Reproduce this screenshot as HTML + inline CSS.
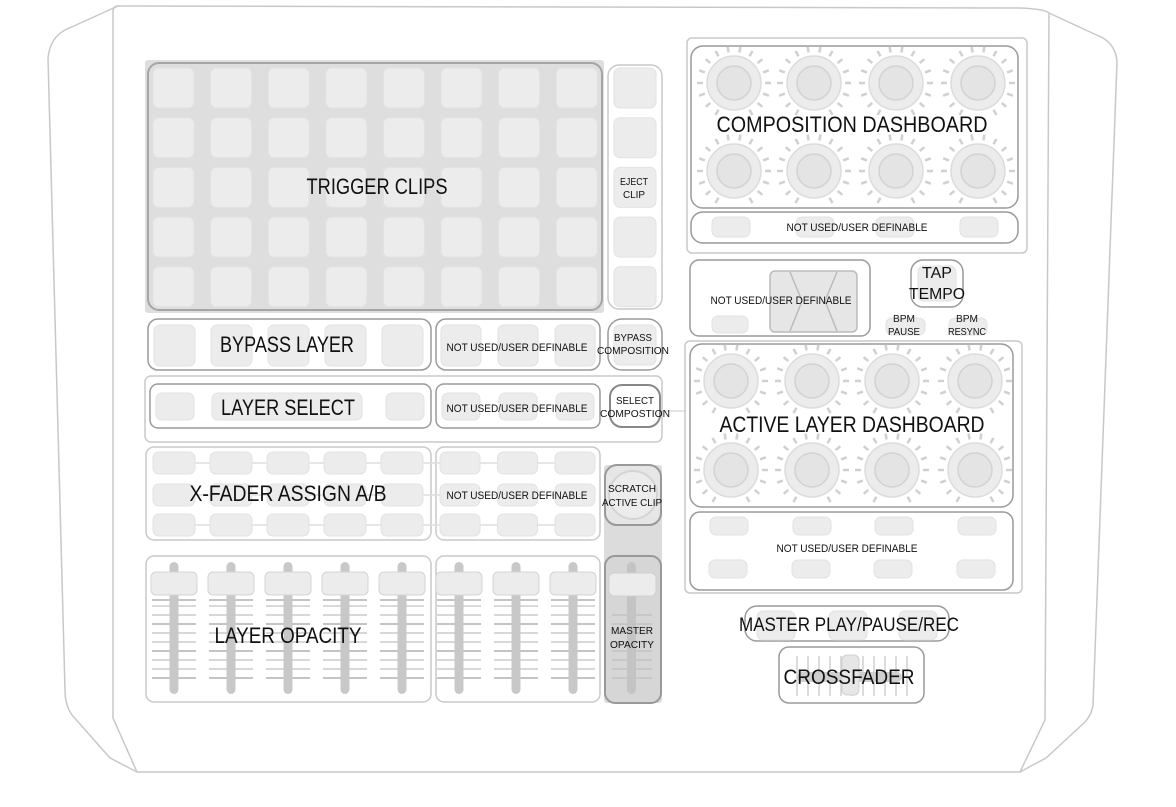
<!DOCTYPE html>
<html><head><meta charset="utf-8"><style>
html,body{margin:0;padding:0;background:#fff;}
svg{display:block;}
text{font-family:"Liberation Sans",sans-serif;fill:#111;}
</style></head><body>
<svg id="s" width="1176" height="807" viewBox="0 0 1176 807" xmlns="http://www.w3.org/2000/svg">
<g fill="none" stroke="#c8c8c8" stroke-width="1.5">
<path d="M118,6 L1020,8 Q1045,9 1049,13 L1045,720 L1020,772 L137,772 L113,718 L113,12 Q113,6 118,6 Z"/>
<path d="M118,6 L65,30 Q50,38 48,58 L65,690 Q65,705 72,715 L110,758 L137,772"/>
<path d="M1049,13 L1103,38 Q1116,46 1117,62 L1093,705 Q1092,714 1085,722 L1046,758 L1020,772"/>
</g>
<g id="g"></g>
<g font-size="22">
<text x="377" y="194" text-anchor="middle" textLength="141" lengthAdjust="spacingAndGlyphs">TRIGGER CLIPS</text>
<text x="287" y="352" text-anchor="middle" textLength="134" lengthAdjust="spacingAndGlyphs">BYPASS LAYER</text>
<text x="288" y="415" text-anchor="middle" textLength="134" lengthAdjust="spacingAndGlyphs">LAYER SELECT</text>
<text x="288" y="501" text-anchor="middle" textLength="197" lengthAdjust="spacingAndGlyphs">X-FADER ASSIGN A/B</text>
<text x="288" y="643" text-anchor="middle" textLength="147" lengthAdjust="spacingAndGlyphs">LAYER OPACITY</text>
<text x="852" y="132" text-anchor="middle" textLength="271" lengthAdjust="spacingAndGlyphs">COMPOSITION DASHBOARD</text>
<text x="852" y="432" text-anchor="middle" textLength="265" lengthAdjust="spacingAndGlyphs">ACTIVE LAYER DASHBOARD</text>
<text x="849" y="631" text-anchor="middle" font-size="19" textLength="220" lengthAdjust="spacingAndGlyphs">MASTER PLAY/PAUSE/REC</text>
<text x="849" y="684" text-anchor="middle" font-size="21" textLength="131" lengthAdjust="spacingAndGlyphs">CROSSFADER</text>
<text x="937" y="278" text-anchor="middle" font-size="16" textLength="30" lengthAdjust="spacingAndGlyphs">TAP</text>
<text x="937" y="299" text-anchor="middle" font-size="16" textLength="56" lengthAdjust="spacingAndGlyphs">TEMPO</text>
</g>
<g font-size="11" text-anchor="middle">
<text x="517" y="351" textLength="141" lengthAdjust="spacingAndGlyphs">NOT USED/USER DEFINABLE</text>
<text x="517" y="412" textLength="141" lengthAdjust="spacingAndGlyphs">NOT USED/USER DEFINABLE</text>
<text x="517" y="499" textLength="141" lengthAdjust="spacingAndGlyphs">NOT USED/USER DEFINABLE</text>
<text x="857" y="231" textLength="141" lengthAdjust="spacingAndGlyphs">NOT USED/USER DEFINABLE</text>
<text x="781" y="304" textLength="141" lengthAdjust="spacingAndGlyphs">NOT USED/USER DEFINABLE</text>
<text x="847" y="552" textLength="141" lengthAdjust="spacingAndGlyphs">NOT USED/USER DEFINABLE</text>
</g>
<g font-size="10" text-anchor="middle">
<text x="634" y="185" textLength="28" lengthAdjust="spacingAndGlyphs">EJECT</text>
<text x="634" y="198" textLength="22" lengthAdjust="spacingAndGlyphs">CLIP</text>
<text x="633" y="341" textLength="38" lengthAdjust="spacingAndGlyphs">BYPASS</text>
<text x="633" y="354" textLength="72" lengthAdjust="spacingAndGlyphs">COMPOSITION</text>
<text x="635" y="404" textLength="38" lengthAdjust="spacingAndGlyphs">SELECT</text>
<text x="635" y="417" textLength="70" lengthAdjust="spacingAndGlyphs">COMPOSTION</text>
<text x="632" y="492" textLength="48" lengthAdjust="spacingAndGlyphs">SCRATCH</text>
<text x="632" y="506" textLength="60" lengthAdjust="spacingAndGlyphs">ACTIVE CLIP</text>
<text x="632" y="634" textLength="42" lengthAdjust="spacingAndGlyphs">MASTER</text>
<text x="632" y="648" textLength="44" lengthAdjust="spacingAndGlyphs">OPACITY</text>
<text x="904" y="322" textLength="22" lengthAdjust="spacingAndGlyphs">BPM</text>
<text x="904" y="335" textLength="32" lengthAdjust="spacingAndGlyphs">PAUSE</text>
<text x="967" y="322" textLength="22" lengthAdjust="spacingAndGlyphs">BPM</text>
<text x="967" y="335" textLength="38" lengthAdjust="spacingAndGlyphs">RESYNC</text>
</g>
</svg>
<script>
var g=document.getElementById('g'),o='';
function R(x,y,w,h,r,f,s,sw){o+='<rect x="'+x+'" y="'+y+'" width="'+w+'" height="'+h+'" rx="'+r+'" fill="'+(f||'none')+'" stroke="'+(s||'none')+'" stroke-width="'+(sw||1.5)+'"/>';}
function L(a,b,c,d,s,w){o+='<line x1="'+a+'" y1="'+b+'" x2="'+c+'" y2="'+d+'" stroke="'+s+'" stroke-width="'+w+'"/>';}
var P='#ececec',PS='#e2e2e2',B='#c9c9c9',D='#9a9a9a';
function pad(x,y,w,h){R(x,y,w,h,6,P,PS,1);}
// trigger
R(145,60,459,253,3,'#dedede');
R(148,63,454,247,11,'none','#a5a5a5',2);
for(var c=0;c<8;c++)for(var r=0;r<5;r++)pad(153+c*57.6,68+r*49.7,41,40);
// eject column
R(608,65,54,244,11,'#fff',B);
for(var r=0;r<5;r++)pad(614,68+r*49.7,42,40);
// bypass row
R(148,319,283,51,10,'none',D);
for(var i=0;i<5;i++)pad(154+i*57,325,41,41);
R(436,319,164,51,10,'none',D);
for(var i=0;i<3;i++)pad(441+i*57,325,40,41);
R(608,319,54,51,14,'none',D);pad(614,325,42,40);
// layer select
R(145,376,517,66,6,'none',B);
R(150,384,281,44,8,'none',D);
pad(156,393,38,27);pad(212,393,150,27);pad(386,393,38,27);
R(436,384,164,44,8,'none',D);
for(var i=0;i<3;i++)pad(442+i*57,393,38,27);
R(610,385,50,42,12,'none','#888',2);
L(662,411,686,411,B,1);
// xfader
R(146,447,285,93,8,'none',B);R(436,447,164,93,8,'none',B);
var ry=[452,484,514];
for(var r=0;r<3;r++){L(175,ry[r]+11,580,ry[r]+11,'#ddd',1.5);
for(var i=0;i<5;i++)pad(153+i*57,ry[r],42,22);
for(var i=0;i<3;i++)pad(440+i*57.5,ry[r],40,22);}
// scratch & master column
R(604,465,58,238,3,'#dcdcdc');
R(605,465,56,60,12,'#e6e6e6','#999',2);
o+='<circle cx="633" cy="495" r="24" fill="#ececec" stroke="#d4d4d4" stroke-width="2"/>';
R(605,556,56,147,10,'#d6d6d6','#999',2);
// opacity faders
R(146,556,285,146,8,'none',B);R(436,556,164,146,8,'none',B);
var ty=[600,606,615,624,633,642,651,660,669,678];
function fader(x,ww){for(var k=0;k<ty.length;k++)L(x-ww,ty[k],x+ww,ty[k],k%3==0?'#c4c4c4':'#d8d8d8',2);
R(x-4.5,562,9,132,4.5,'#c8c8c8');R(x-23,572,46,23,5,P,'#d4d4d4',1);}
for(var i=0;i<5;i++)fader(174+i*57,22);
for(var i=0;i<3;i++)fader(459+i*57,22);
for(var k=2;k<ty.length;k++)L(612,ty[k],652,ty[k],'#c2c2c2',1.5);
R(627,562,9,132,4.5,'#c4c4c4');R(609,573,47,23,5,P,'#d0d0d0',1);
// knobs
function knob(cx,cy){for(var a=-150;a<=150;a+=20){var t=a*Math.PI/180,s=Math.sin(t),c=-Math.cos(t);
L((cx+s*31).toFixed(1),(cy+c*31).toFixed(1),(cx+s*37).toFixed(1),(cy+c*37).toFixed(1),'#d0d0d0',2.5);}
o+='<circle cx="'+cx+'" cy="'+cy+'" r="27" fill="#ececec" stroke="#dcdcdc" stroke-width="1.5"/>';
o+='<circle cx="'+cx+'" cy="'+cy+'" r="17" fill="#e4e4e4" stroke="#d2d2d2" stroke-width="1.5"/>';}
R(687,38,340,215,5,'none',B);
R(691,46,327,162,12,'none',D);
[734,814,896,978].forEach(function(x){knob(x,83);knob(x,171);});
R(691,212,327,31,12,'none',D);
[712,796,876,960].forEach(function(x){pad(x,217,38,20);});
// not used x box
R(690,260,180,76,9,'none',D);
R(770,271,87,61,5,'#e6e6e6','#bbb',1.5);
o+='<path d="M790,272 L802,301 L790,331 M837,272 L825,301 L837,331" fill="none" stroke="#bbb" stroke-width="1.5"/>';
pad(712,316,36,17);
R(911,260,52,47,12,'none',D);pad(918,266,38,35);
pad(886,318,39,17);pad(949,318,38,17);
// active layer
R(685,341,337,252,5,'none',B);
R(690,344,323,163,12,'none',D);
[731,812,892,975].forEach(function(x){knob(x,381);knob(x,470);});
R(690,512,323,78,10,'none',D);
[710,793,875,958].forEach(function(x){pad(x,517,38,18);pad(x-1,560,38,18);});
// master play
R(745,606,204,35,12,'none',D);
[757,829,899].forEach(function(x){pad(x,611,38,29);});
// crossfader
R(779,647,145,56,10,'none',D);
for(var i=0;i<11;i++){var x=797+i*11;L(x,656,x,696,'#d0d0d0',1.5);}
R(797,672,105,10,5,'#cfcfcf');
R(842,655,17,40,5,'#e6e6e6','#d0d0d0',1);
g.innerHTML=o;
</script>
</body></html>
